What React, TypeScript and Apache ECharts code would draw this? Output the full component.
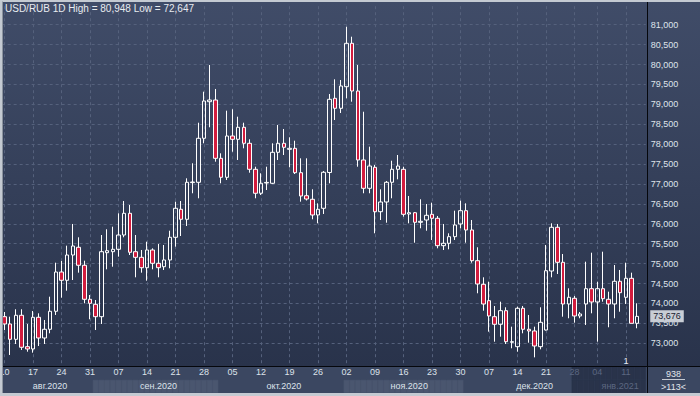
import React, { useEffect, useRef } from 'react';
import * as echarts from 'echarts';

const FONT = '"Liberation Sans", Arial, sans-serif';

// ---- calendar (weekday candles) ----
const START_DATE = '2020-08-10';
const END_DATE = '2021-01-13';
const HOLIDAYS = ['2021-01-01'];
const DIM_FROM = '2020-12-28';
const PAD = 'pad';
const MONTH_NAMES = ['янв.', 'фев.', 'мар.', 'апр.', 'мая', 'июн.', 'июл.', 'авг.', 'сен.', 'окт.', 'ноя.', 'дек.'];
const TOTAL_BARS_TEXT = '938';

// ---- OHLC values (USD/RUB, daily) ----
const opens = [73.668,73.485,73.100,73.703,72.915,72.857,73.653,73.133,73.352,73.804,
74.790,74.582,75.217,75.411,74.959,74.105,73.979,73.668,75.275,75.300,
75.360,75.719,76.264,75.300,75.159,74.898,75.343,75.009,74.923,75.092,
75.662,76.365,76.114,77.035,77.043,78.148,79.067,79.109,77.645,77.168,
78.205,78.122,78.424,78.022,77.369,76.767,77.025,77.018,77.796,78.022,
77.871,77.896,77.284,76.706,76.616,76.222,76.390,77.289,79.152,78.901,
79.443,80.533,79.335,77.603,76.892,77.419,76.304,76.548,77.043,77.369,
77.369,76.247,76.279,76.038,76.096,76.239,76.139,75.451,75.511,75.677,
75.996,76.330,75.845,75.074,74.481,74.070,73.668,73.477,73.819,73.025,
72.915,73.879,73.352,73.309,72.915,73.334,74.815,75.913,75.034,73.987,
74.130,73.686,73.987,74.371,74.037,74.371,74.105,73.987,74.557,74.155,
74.632,73.502];

const closes = [73.485,73.100,73.703,72.900,72.857,73.653,73.133,73.352,73.804,74.790,
74.582,75.217,75.443,74.959,74.105,74.004,73.668,75.300,75.325,75.360,
75.719,76.264,75.285,75.159,74.898,75.343,75.009,74.898,75.092,75.662,
76.390,76.114,77.043,77.050,78.148,79.084,79.109,77.645,77.168,78.205,
78.122,78.424,78.022,77.369,76.767,77.018,77.040,77.796,78.022,77.922,
77.896,77.284,76.699,76.623,76.222,76.365,77.294,79.127,78.901,79.461,
80.533,79.335,77.603,76.892,77.452,76.304,76.548,77.043,77.369,77.452,
76.239,76.279,76.038,76.063,76.214,76.139,75.451,75.511,75.677,75.971,
76.330,75.845,75.074,74.489,73.987,73.686,73.477,73.819,73.040,73.040,
73.879,73.352,73.309,72.932,73.527,74.823,75.913,75.034,73.987,74.155,
73.686,73.736,74.371,74.037,74.371,74.120,73.987,74.557,74.271,74.632,
73.502,73.676];

const highs = [73.786,73.668,73.854,73.854,73.485,73.811,73.753,73.585,74.170,75.024,
75.067,75.451,75.996,75.662,75.074,74.213,74.087,75.719,75.863,75.928,
76.264,76.573,76.473,75.719,75.343,75.551,75.385,75.493,75.468,75.827,
76.556,76.573,77.143,77.520,78.539,79.318,79.988,79.386,77.771,78.841,
78.876,78.690,78.539,78.122,77.434,77.269,77.434,78.022,78.482,78.381,
78.173,78.087,77.645,77.645,76.867,76.515,77.326,79.260,79.629,79.612,
80.948,80.699,79.988,78.815,77.937,77.477,76.867,77.075,77.585,77.728,
77.434,76.699,76.297,76.616,76.498,76.531,76.197,75.996,75.762,76.330,
76.581,76.515,76.096,75.411,74.657,74.547,73.937,74.045,73.904,73.417,
73.919,73.937,73.711,73.417,73.904,75.468,76.013,75.996,75.242,74.381,
74.188,73.786,75.049,75.275,74.547,75.300,74.296,74.966,74.841,75.024,
74.773,74.004];

const lows = [73.334,72.706,72.982,72.832,72.789,72.764,72.932,72.982,73.251,73.711,
74.145,74.321,74.589,74.773,74.004,73.603,73.334,73.485,74.858,74.923,
75.175,75.662,75.217,74.657,74.773,74.572,74.858,74.657,74.841,74.883,
75.426,75.694,75.945,76.767,76.641,78.022,78.424,77.560,77.018,77.100,
77.811,77.603,77.896,77.284,76.641,76.724,76.849,77.000,77.603,77.728,
77.419,77.251,76.556,76.586,76.114,76.013,76.247,77.018,78.607,78.783,
79.152,79.067,77.434,76.767,76.767,75.762,76.096,76.028,76.641,77.118,
76.179,76.013,75.526,75.888,75.827,75.594,75.385,75.343,75.360,75.594,
75.888,75.526,75.024,74.256,73.819,73.291,73.040,73.166,72.982,72.874,
72.789,73.251,73.015,72.647,72.849,73.321,74.657,74.740,73.668,73.628,
73.517,73.628,73.460,73.753,73.040,74.045,73.402,73.628,73.793,73.987,
73.502,73.377];

function tradingDays(): string[] {
  const out: string[] = [];
  const d = new Date(START_DATE + 'T00:00:00Z');
  const end = new Date(END_DATE + 'T00:00:00Z');
  while (d <= end) {
    const wd = d.getUTCDay();
    const s = d.toISOString().slice(0, 10);
    if (wd !== 0 && wd !== 6 && HOLIDAYS.indexOf(s) < 0) out.push(s);
    d.setUTCDate(d.getUTCDate() + 1);
  }
  return out;
}

const fmt3 = (v: number) => v.toFixed(3).replace('.', ',');

function buildOption() {
  const days = tradingDays();
  const cats = [...days, PAD];
  const isDate = (s: string) => s.length === 10 && s !== PAD;
  const isMonday = (s: string) => isDate(s) && new Date(s + 'T00:00:00Z').getUTCDay() === 1;
  const isDim = (s: string) => s === PAD || s >= DIM_FROM;

  // month groups
  const groups: { key: string; start: number; end: number }[] = [];
  days.forEach((s, i) => {
    const key = s.slice(0, 7);
    const g = groups[groups.length - 1];
    if (g && g.key === key) g.end = i;
    else groups.push({ key, start: i, end: i });
  });
  const monthLabelAt: Record<number, string> = {};
  const monthParity: Record<string, number> = {};
  groups.forEach((g, k) => {
    const idx = Math.ceil((g.start + g.end + 1) / 2);
    const m = parseInt(g.key.slice(5, 7), 10) - 1;
    monthLabelAt[idx] = MONTH_NAMES[m] + g.key.slice(0, 4);
    monthParity[g.key] = k % 2;
  });

  const candleData = opens.map((o, i) => [o, closes[i], lows[i], highs[i]]);
  const last = closes.length - 1;
  const hi = Math.max(...highs);
  const lo = Math.min(...lows);

  const gridLeft = 1.65;
  const gridRight = 54.25;

  const row2 = cats.map((s) => {
    let c = 'rgba(0,0,0,0)';
    if (isDim(s)) c = '#29334a';
    else if (monthParity[s.slice(0, 7)] === 1) c = '#4a566f';
    return { value: 1, itemStyle: { color: c, borderColor: c, borderWidth: 0.5 } };
  });
  const row1 = cats.map((s) => {
    const c = isDim(s) ? '#29334a' : 'rgba(0,0,0,0)';
    return { value: 1, itemStyle: { color: c, borderColor: c, borderWidth: 0.5 } };
  });

  const dashColor = '#55617c';

  return {
    animation: false,
    grid: [
      { left: gridLeft, right: gridRight, top: 4.8, bottom: 32.8, containLabel: false, outerBoundsMode: 'none' },
      { left: gridLeft, right: gridRight, top: 366.8, bottom: 3, containLabel: false, outerBoundsMode: 'none' },
    ],
    xAxis: [
      {
        gridIndex: 0, type: 'category', data: cats, boundaryGap: true, z: 10,
        axisLine: { show: false }, axisTick: { show: false }, splitLine: { show: false },
        axisLabel: {
          interval: (index: number, value: string) => isMonday(value),
          formatter: (value: string) => (isDim(value) ? '{d|' : '{n|') + value.slice(8, 10) + '}',
          margin: 4.5,
          fontSize: 9,
          fontFamily: FONT,
          rich: {
            n: { color: '#dde2ea', fontSize: 9, fontFamily: FONT },
            d: { color: '#5c6781', fontSize: 9, fontFamily: FONT },
          },
        },
      },
      {
        gridIndex: 0, type: 'category', data: cats, boundaryGap: true, position: 'bottom', offset: 14, z: 10,
        axisLine: { show: false }, axisTick: { show: false }, splitLine: { show: false },
        axisLabel: {
          interval: (index: number) => monthLabelAt[index] !== undefined,
          formatter: (value: string, index: number) => {
            const t = monthLabelAt[index] || '';
            return (isDim(value) ? '{d|' : '{n|') + t + '}';
          },
          margin: 4.5,
          fontSize: 9,
          fontFamily: FONT,
          rich: {
            n: { color: '#dde2ea', fontSize: 9, fontFamily: FONT },
            d: { color: '#5c6781', fontSize: 9, fontFamily: FONT },
          },
        },
      },
      { gridIndex: 1, type: 'category', data: cats, boundaryGap: true, show: false },
    ],
    yAxis: [
      {
        gridIndex: 0, type: 'value', position: 'right', min: 72.5, max: 81.5, interval: 0.5,
        axisLine: { show: false }, axisTick: { show: false },
        splitLine: { show: true, showMinLine: false, showMaxLine: false, lineStyle: { type: [3, 3], color: dashColor, width: 1 } },
        axisLabel: {
          showMinLabel: false, showMaxLabel: false, margin: 5, color: '#dfe3ea', fontSize: 9, fontFamily: FONT,
          formatter: (v: number) => fmt3(v),
        },
      },
      { gridIndex: 1, type: 'value', min: 0, max: 2, show: false },
    ],
    series: [
      {
        type: 'candlestick', name: 'USD/RUB', xAxisIndex: 0, yAxisIndex: 0, z: 3, barWidth: 4,
        data: candleData,
        itemStyle: { color: 'rgba(0,0,0,0)', color0: '#d21c3e', borderColor: '#ffffff', borderColor0: '#ffffff', borderWidth: 1 },
        markLine: {
          z: 1, silent: true, animation: false, symbol: ['none', 'none'],
          label: { show: false },
          lineStyle: { type: [3, 3], color: dashColor, width: 1 },
          data: [
            ...days.filter(isMonday).map((s) => ({ xAxis: s })),
            {
              yAxis: closes[last],
              lineStyle: { color: 'rgba(0,0,0,0)', width: 0 },
              label: {
                show: true, position: 'end', distance: 4.5, formatter: fmt3(closes[last]),
                backgroundColor: '#c8cdd5', color: '#1a2130', padding: [2, 3, 1, 3], fontSize: 9, fontFamily: FONT,
              },
            },
          ],
        },
      },
      {
        type: 'bar', xAxisIndex: 2, yAxisIndex: 1, stack: 'strip', z: 1, silent: true,
        barCategoryGap: '0%', data: row2,
      },
      {
        type: 'bar', xAxisIndex: 2, yAxisIndex: 1, stack: 'strip', z: 1, silent: true,
        barCategoryGap: '0%', data: row1,
      },
    ],
    graphic: {
      elements: [
        {
          type: 'rect', z: -10, silent: true, shape: { x: 3, y: 2, width: 697, height: 364 },
          style: {
            fill: { type: 'linear', x: 0, y: 0, x2: 0, y2: 1, colorStops: [
              { offset: 0, color: '#404c68' }, { offset: 1, color: '#29334b' },
            ] },
          },
        },
        { type: 'rect', z: -10, silent: true, shape: { x: 3, y: 366, width: 697, height: 27 }, style: { fill: '#3b4761' } },
        { type: 'line', z: 50, silent: true, shape: { x1: 3, y1: 366.5, x2: 700, y2: 366.5 }, style: { stroke: '#05070c', lineWidth: 1 } },
        { type: 'line', z: 50, silent: true, shape: { x1: 647.5, y1: 2, x2: 647.5, y2: 393 }, style: { stroke: '#05070c', lineWidth: 1 } },
        // frame
        { type: 'rect', z: 100, silent: true, shape: { x: 0, y: 0, width: 3, height: 396 }, style: { fill: '#c4cad2' } },
        { type: 'rect', z: 100, silent: true, shape: { x: 0, y: 0, width: 700, height: 2 }, style: { fill: '#c4cad2' } },
        { type: 'rect', z: 100, silent: true, shape: { x: 0, y: 393, width: 700, height: 3 }, style: { fill: '#c4cad2' } },
        { type: 'line', z: 101, silent: true, shape: { x1: 2.5, y1: 1.5, x2: 2.5, y2: 393 }, style: { stroke: '#8c949f', lineWidth: 1 } },
        // title
        {
          type: 'text', z: 20, x: 5, y: 8, silent: true,
          style: {
            text: `USD/RUB 1D High = ${fmt3(hi)} Low = ${fmt3(lo)}`,
            fill: '#e8ebf0', font: `10px ${FONT}`, textVerticalAlign: 'middle', verticalAlign: 'middle',
          },
        },
        // corner cell
        {
          type: 'text', z: 20, x: 673.5, y: 373.5, silent: true,
          style: { text: TOTAL_BARS_TEXT, fill: '#e2e6ec', font: `9px ${FONT}`, textAlign: 'center', align: 'center', textVerticalAlign: 'middle', verticalAlign: 'middle' },
        },
        { type: 'line', z: 20, silent: true, shape: { x1: 662, y1: 379.5, x2: 685, y2: 379.5 }, style: { stroke: '#c5cad3', lineWidth: 1 } },
        {
          type: 'text', z: 20, x: 673.5, y: 387, silent: true,
          style: { text: '>' + cats.length + '<', fill: '#e2e6ec', font: `9px ${FONT}`, textAlign: 'center', align: 'center', textVerticalAlign: 'middle', verticalAlign: 'middle' },
        },
        // event marker
        {
          type: 'text', z: 20, x: 626, y: 361, silent: true,
          style: { text: '1', fill: '#e8ebf0', font: `9px ${FONT}`, textAlign: 'center', align: 'center', textVerticalAlign: 'middle', verticalAlign: 'middle' },
        },
      ],
    },
  };
}

export default function App() {
  const ref = useRef<HTMLDivElement>(null);
  useEffect(() => {
    if (!ref.current) return;
    const chart = echarts.init(ref.current, null, { renderer: 'svg' });
    chart.setOption(buildOption() as any);
    return () => chart.dispose();
  }, []);
  return (
    <div
      ref={ref}
      style={{ position: 'absolute', left: 0, top: 0, width: 700, height: 396, background: '#c4cad2' }}
    />
  );
}
